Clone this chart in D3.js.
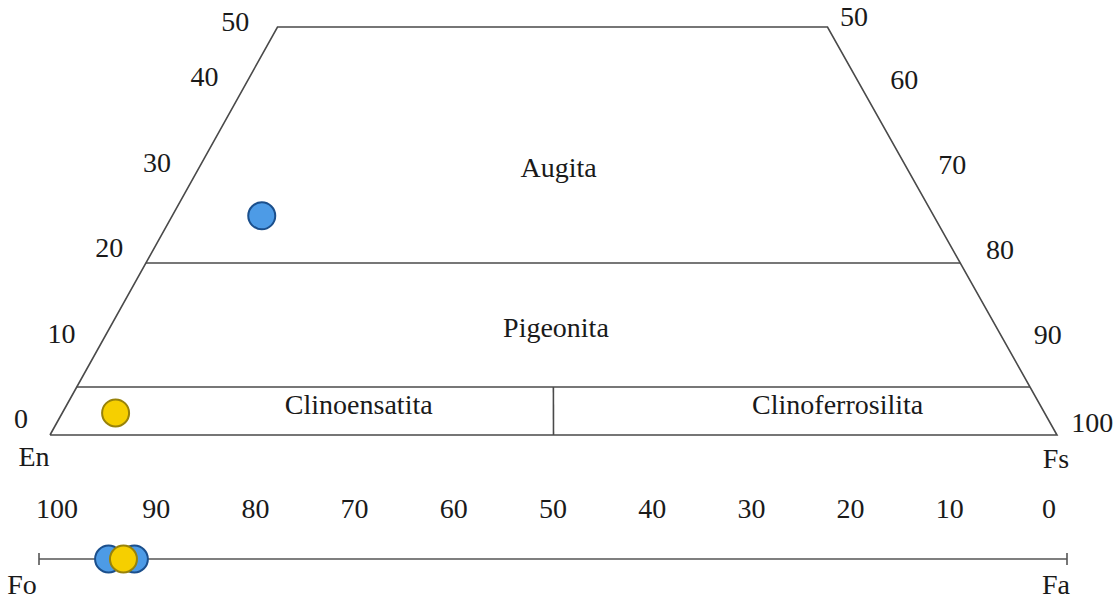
<!DOCTYPE html>
<html>
<head>
<meta charset="utf-8">
<script src="https://cdn.jsdelivr.net/npm/d3@7"></script>
<style>
  html, body { margin: 0; padding: 0; background: #fff; }
  svg text { font-family: "Liberation Serif", "Times New Roman", serif; fill: #1a1a1a; }
</style>
</head>
<body>
<svg id="chart" width="1118" height="603"></svg>
<script>
// Pyroxene quadrilateral (En–Fs–Wo) with olivine Fo–Fa bar below.

// Wollastonite tick values along each slanted side
const woTicksLeft = [0, 10, 20, 30, 40, 50];
const fsTicksRight = [50, 60, 70, 80, 90, 100];
// Fo scale ticks on the olivine bar
const foTicks = [100, 90, 80, 70, 60, 50, 40, 30, 20, 10, 0];

// Field names
const fieldNames = ["Augita", "Pigeonita", "Clinoensatita", "Clinoferrosilita"];
const fieldWo = [30.9, 11.05, 2.2, 2.2];        // label baseline, Wo %
const fieldFsFrac = [0.508, 0.503, 0.302, 0.789]; // label centre, Fs/(En+Fs)

// Pyroxene analyses (mol %)
const pxGroup = ["A", "B"];
const pxWo = [26.0, 2.3];
const pxEn = [65.3, 92.4];
const pxFs = [8.7, 5.3];

// Olivine analyses (Fo %)
const olGroup = ["A", "A", "B"];
const olFo = [94.8, 92.2, 93.3];

const colors = {
  A: { fill: "#4d9be6", stroke: "#1b4f8c" },
  B: { fill: "#f6cf00", stroke: "#98820a" }
};

const svg = d3.select("#chart");
const lineColor = "#4a4a4a";
const fontSize = 28;

// Vertical position of a Wo content inside the quadrilateral
const woY = d3.scaleLinear().domain([0, 5, 20, 50]).range([435, 387, 263, 27]);
// Left (En) and right (Fs) edges as functions of height
const leftX = d3.scaleLinear().domain([435, 27]).range([50, 277.5]);
const rightX = d3.scaleLinear().domain([435, 27]).range([1057, 827.5]);

function quadPos(wo, fsFrac) {
  const y = woY(wo);
  const xl = leftX(y), xr = rightX(y);
  return [xl + fsFrac * (xr - xl), y];
}

// Outline
const yb = woY(0), yt = woY(50);
svg.append("path")
  .attr("d", d3.line()([[leftX(yb), yb], [leftX(yt), yt], [rightX(yt), yt], [rightX(yb), yb], [leftX(yb), yb]]))
  .attr("fill", "none").attr("stroke", lineColor).attr("stroke-width", 1.6)
  .attr("stroke-linejoin", "miter");

// Field boundaries: Wo = 20, Wo = 5, and En = Fs below Wo = 5
[20, 5].forEach(w => {
  const y = woY(w);
  svg.append("line")
    .attr("x1", leftX(y)).attr("x2", rightX(y)).attr("y1", y).attr("y2", y)
    .attr("stroke", lineColor).attr("stroke-width", 1.6);
});
{
  const p0 = quadPos(0, 0.5), p1 = quadPos(5, 0.5);
  svg.append("line")
    .attr("x1", p0[0]).attr("y1", p0[1]).attr("x2", p1[0]).attr("y2", p1[1])
    .attr("stroke", lineColor).attr("stroke-width", 1.6);
}

// Side tick labels
const leftLabelY = d3.scaleLinear().domain([0, 40, 50]).range([419, 77, 22]);
svg.selectAll("text.tl").data(woTicksLeft).join("text")
  .attr("class", "tl")
  .attr("x", d => leftX(leftLabelY(d)) - 31)
  .attr("y", d => leftLabelY(d))
  .attr("dy", "0.33em")
  .attr("text-anchor", "end")
  .attr("font-size", fontSize)
  .text(d => d);

const rightLabelY = d3.scaleLinear().domain([50, 60, 90, 100]).range([17, 80, 335, 423]);
const rightGap = d3.scaleLinear().domain([50, 60, 90, 100]).range([18, 33, 33, 21]);
svg.selectAll("text.tr").data(fsTicksRight).join("text")
  .attr("class", "tr")
  .attr("x", d => rightX(rightLabelY(d)) + rightGap(d))
  .attr("y", d => rightLabelY(d))
  .attr("dy", "0.33em")
  .attr("text-anchor", "start")
  .attr("font-size", fontSize)
  .text(d => d);

// Field names
svg.selectAll("text.field").data(fieldNames).join("text")
  .attr("class", "field")
  .attr("x", (d, i) => quadPos(fieldWo[i], fieldFsFrac[i])[0])
  .attr("y", (d, i) => quadPos(fieldWo[i], fieldFsFrac[i])[1])
  .attr("text-anchor", "middle")
  .attr("font-size", fontSize)
  .text(d => d);

// End-member names
svg.append("text").attr("x", 34).attr("y", 466).attr("text-anchor", "middle")
  .attr("font-size", fontSize).text("En");
svg.append("text").attr("x", 1056).attr("y", 468).attr("text-anchor", "middle")
  .attr("font-size", fontSize).text("Fs");

// Pyroxene points
svg.selectAll("circle.px").data(pxWo).join("circle")
  .attr("class", "px")
  .attr("cx", (d, i) => quadPos(d, pxFs[i] / (pxEn[i] + pxFs[i]))[0])
  .attr("cy", (d, i) => quadPos(d, pxFs[i] / (pxEn[i] + pxFs[i]))[1])
  .attr("r", 13.5)
  .attr("fill", (d, i) => colors[pxGroup[i]].fill)
  .attr("stroke", (d, i) => colors[pxGroup[i]].stroke)
  .attr("stroke-width", 2);

// Olivine bar
const foX = d3.scaleLinear().domain([100, 0]).range([57, 1049]);
const barY = 559;
const barX0 = 39, barX1 = 1067;
svg.append("line").attr("x1", barX0).attr("x2", barX1).attr("y1", barY).attr("y2", barY)
  .attr("stroke", "#555").attr("stroke-width", 1.6);
[barX0, barX1].forEach(x => {
  svg.append("line").attr("x1", x).attr("x2", x).attr("y1", barY - 6).attr("y2", barY + 6)
    .attr("stroke", "#555").attr("stroke-width", 1.6);
});
svg.selectAll("text.fo").data(foTicks).join("text")
  .attr("class", "fo")
  .attr("x", d => foX(d))
  .attr("y", 518)
  .attr("text-anchor", "middle")
  .attr("font-size", fontSize)
  .text(d => d);

svg.append("text").attr("x", 22).attr("y", 594).attr("text-anchor", "middle")
  .attr("font-size", fontSize).text("Fo");
svg.append("text").attr("x", 1056).attr("y", 594).attr("text-anchor", "middle")
  .attr("font-size", fontSize).text("Fa");

svg.selectAll("circle.ol").data(olFo).join("circle")
  .attr("class", "ol")
  .attr("cx", d => foX(d))
  .attr("cy", barY)
  .attr("r", 13.5)
  .attr("fill", (d, i) => colors[olGroup[i]].fill)
  .attr("stroke", (d, i) => colors[olGroup[i]].stroke)
  .attr("stroke-width", 2);
</script>
</body>
</html>
